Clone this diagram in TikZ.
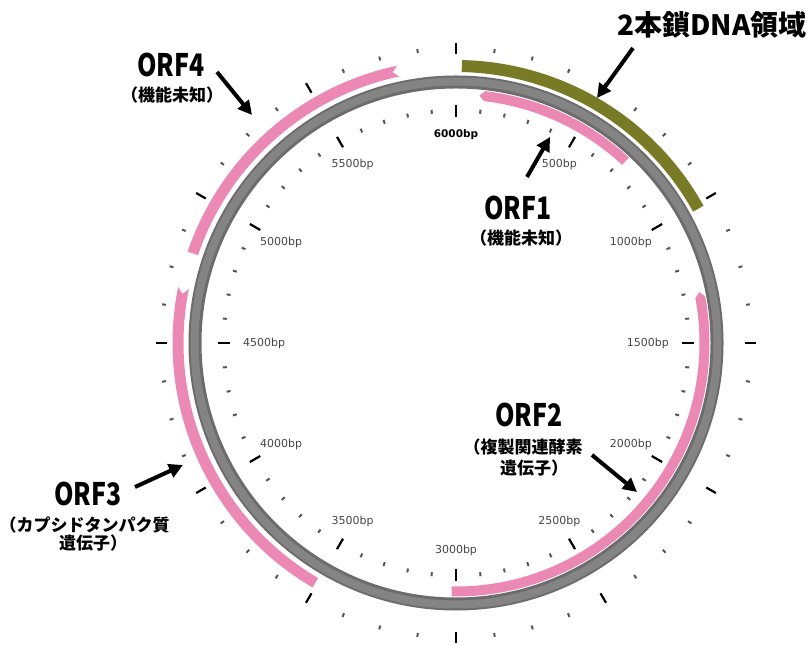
\documentclass[tikz,border=0pt]{standalone}
\usepackage{fontspec}
\newfontfamily\jp{Noto Sans CJK JP}
\newfontfamily\jpn{Noto Sans CJK JP}[FakeStretch=0.8]
\newfontfamily\labfont{DejaVu Sans}
\usetikzlibrary{arrows.meta}
\definecolor{ringdark}{RGB}{108,108,108}
\definecolor{ringgray}{RGB}{132,132,132}
\definecolor{orfpink}{RGB}{236,136,180}
\definecolor{dsolive}{RGB}{120,122,38}
\definecolor{ticklab}{RGB}{70,70,70}
\definecolor{minortick}{RGB}{85,85,85}
\newcommand\orfarrow[5]{%
  \fill[orfpink] (#3:#1-#2) arc[start angle=#3,end angle=#4,radius=#1-#2]
    -- (#5:#1) -- (#4:#1+#2) arc[start angle=#4,end angle=#3,radius=#1+#2] -- cycle;}
\begin{document}
\begin{tikzpicture}[x=1pt,y=1pt,
  callout/.style={draw=black, line width=4, -{Triangle[length=14pt,width=14pt]}},
  orfname/.style={font=\jpn\bfseries\fontsize{31}{31}\selectfont, inner sep=0, anchor=base},
  orfsub/.style={font=\jp\bfseries\fontsize{17}{17}\selectfont, inner sep=0},
  titlestyle/.style={font=\jp\bfseries\fontsize{28}{28}\selectfont, inner sep=0},
  scalelab/.style={font=\labfont\fontsize{11}{11}\selectfont, text=ticklab, inner sep=0},
  majortick/.style={line width=2.2, black},
  minortickst/.style={line width=2, minortick},
]
\useasboundingbox (0,0) rectangle (810,645);
\begin{scope}[shift={(456,302)}]
  % backbone ring
  \draw[ringdark, line width=13] (0,0) circle[radius=261];
  \draw[ringgray, line width=8] (0,0) circle[radius=261.5];
  % double-stranded region
  \draw[dsolive, line width=12] (88.8:277) arc[start angle=88.8, end angle=29, radius=277];
  % ORFs
  \orfarrow{248.5}{5}{47}{83.4}{84.6}
  \orfarrow{248.5}{5}{-91}{10.6}{11.8}
  \orfarrow{278}{5.5}{239.6}{168.6}{169.8}
  \orfarrow{278}{5.5}{161.2}{102}{103.2}
  % inner ticks
  \foreach \i in {0,...,59}{
    \pgfmathsetmacro\ang{90-6*\i}
    \pgfmathtruncatemacro\m{mod(\i,5)}
    \ifnum\m=0
      \draw[majortick] (\ang:226) -- (\ang:238);
    \else
      \draw[minortickst] (\ang:230.5) -- (\ang:234.5);
    \fi
  }
  % outer ticks
  \foreach \i in {0,...,47}{
    \pgfmathsetmacro\ang{90-7.5*\i}
    \pgfmathtruncatemacro\m{mod(\i,4)}
    \ifnum\m=0
      \draw[majortick] (\ang:289) -- (\ang:300);
    \else
      \draw[minortickst] (\ang:292.5) -- (\ang:296.5);
    \fi
  }
  % scale labels
  \node[scalelab, text=black, font=\labfont\bfseries\fontsize{10.5}{10.5}\selectfont, anchor=90] (lab0) at (90:214) {6000bp};
  \foreach \k/\t in {1/500bp,2/1000bp,3/1500bp,4/2000bp,5/2500bp,6/3000bp,7/3500bp,8/4000bp,9/4500bp,10/5000bp,11/5500bp}{
    \pgfmathtruncatemacro\an{mod(90-30*\k+720,360)}
    \node[scalelab, anchor=\an] (lab\k) at (\an:213) {\t};
  }
\end{scope}
% title and callouts
\node[titlestyle] (title) at (712,620) {2本鎖DNA領域};
\coordinate (tT) at (633,597); \coordinate (hT) at (597,547);
\draw[callout] (tT) -- (hT);

\node[orfname] (orf4) at (171,568) {ORF4};
\node[orfsub] (orf4s) at (172,550) {（機能未知）};
\coordinate (t4) at (217,573); \coordinate (h4) at (252,530);
\draw[callout] (t4) -- (h4);

\node[orfname] (orf1) at (518,425) {ORF1};
\node[orfsub] (orf1s) at (521,406.5) {（機能未知）};
\coordinate (t1) at (527,468); \coordinate (h1) at (550,508);
\draw[callout] (t1) -- (h1);

\node[orfname] (orf2) at (529,218) {ORF2};
\node[orfsub] (orf2s) at (523,197.5) {（複製関連酵素};
\node[orfsub] (orf2t) at (534,176.5) {遺伝子）};
\coordinate (t2) at (592,190); \coordinate (h2) at (637,153);
\draw[callout] (t2) -- (h2);

\node[orfname] (orf3) at (88,140) {ORF3};
\node[orfsub] (orf3s) at (84.5,120) {（カプシドタンパク質};
\node[orfsub] (orf3t) at (93,101.5) {遺伝子）};
\coordinate (t3) at (135,158); \coordinate (h3) at (183,180);
\draw[callout] (t3) -- (h3);
\end{tikzpicture}
\end{document}
